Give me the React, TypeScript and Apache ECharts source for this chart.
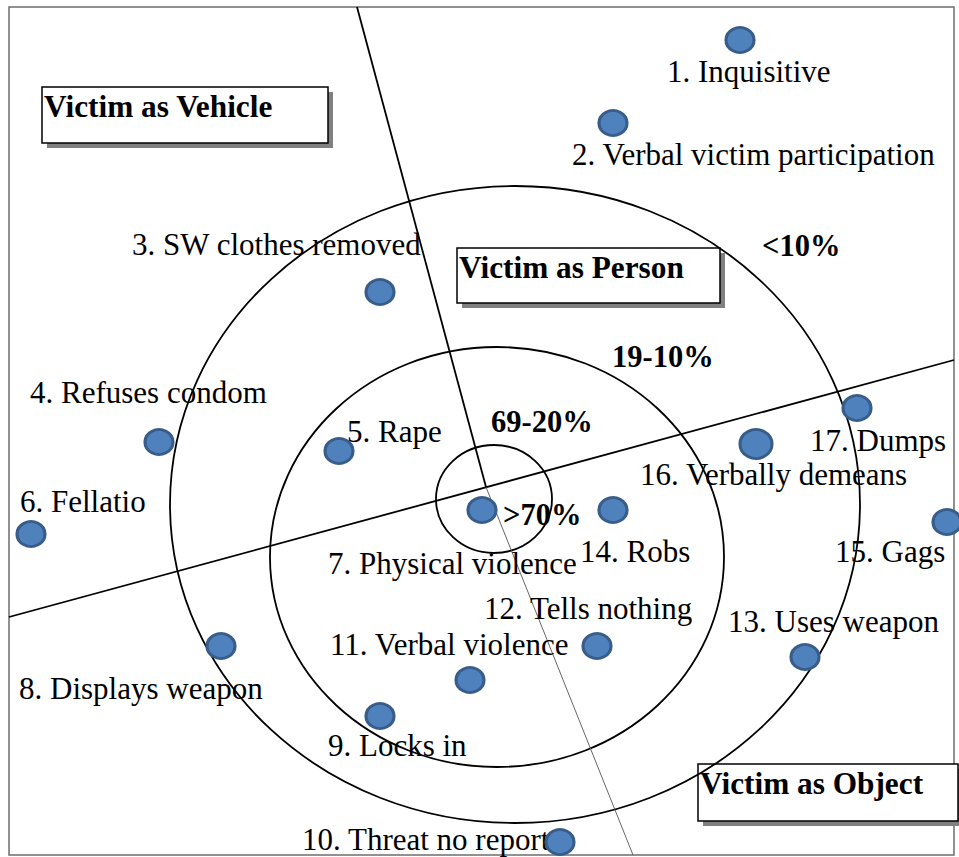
import React, { useEffect, useRef } from "react";
import * as echarts from "echarts";

// Data space: x 0..945 (left→right), y 0..848 (top→bottom) inside the frame
const X_MAX = 945;
const Y_MAX = 848;

const itemNames = [
  "1. Inquisitive",
  "2. Verbal victim participation",
  "3. SW clothes removed",
  "4. Refuses condom",
  "5. Rape",
  "6. Fellatio",
  "7. Physical violence",
  "8. Displays weapon",
  "9. Locks in",
  "10. Threat no report",
  "11. Verbal violence",
  "12. Tells nothing",
  "13. Uses weapon",
  "14. Robs",
  "15. Gags",
  "16. Verbally demeans",
  "17. Dumps",
];

// point locations in the plot space
const itemX = [731, 604, 371, 150, 330, 22, 473, 212, 371, 551, 461, 588, 796, 604, 938, 747, 848];
const itemY = [33, 116, 285, 435, 444, 527, 503, 639, 709, 835, 673, 639, 650, 503, 515, 437, 401];

// label anchors (left edge, vertical middle) in the plot space
const labelX = [658, 563, 123, 21, 338, 11, 319, 10, 319, 293, 321, 475, 719, 571, 826, 631, 801];
const labelY = [64, 147, 237, 385, 424, 494, 556, 681, 738, 832, 637, 601, 614, 544, 544, 467, 433];

// concentric regions (centre x, centre y, radius x, radius y)
const ringCx = [485, 488, 506];
const ringCy = [492, 550, 497.5];
const ringRx = [58, 227, 345];
const ringRy = [54, 210, 318.5];

const ringLabels = [">70%", "69-20%", "19-10%", "<10%"];
const ringLabelX = [494, 482, 603, 753];
const ringLabelY = [508, 415, 350, 239];

// partition lines
const lineA = [[348, 0], [477, 480]];
const lineB = [[0, 610], [945, 353]];
const lineC = [[477, 480], [624, 848]];

const FONT = "'Liberation Serif', 'Times New Roman', serif";

function box(x: number, y: number, w: number, h: number, text: string) {
  return {
    type: "group",
    z: 1,
    children: [
      { type: "rect", shape: { x: x + 5, y: y + 5, width: w, height: h }, style: { fill: "#808080" } },
      {
        type: "rect",
        shape: { x, y, width: w, height: h },
        style: { fill: "#ffffff", stroke: "#000000", lineWidth: 1.5 },
      },
      {
        type: "text",
        x: x + 2,
        y: y + 19,
        style: {
          text,
          fontFamily: FONT,
          fontSize: 31.3,
          fontWeight: "bold",
          fill: "#000",
          align: "left",
          verticalAlign: "middle",
        },
      },
    ],
  };
}

export default function App() {
  const ref = useRef<HTMLDivElement>(null);
  useEffect(() => {
    if (!ref.current) return;
    const chart = echarts.init(ref.current, null, { renderer: "svg" });
    const points = itemX.map((x, i) => ({
      value: [x, itemY[i]],
      symbolSize: i === 15 ? [32, 29] : [28, 25],
    }));
    const labels = labelX.map((x, i) => [x, labelY[i]]);
    const rings = ringCx.map((cx, i) => [cx, ringCy[i], ringRx[i], ringRy[i]]);
    const ringLabs = ringLabelX.map((x, i) => [x, ringLabelY[i]]);
    const lineStyle = { color: "#000", width: 1.8 };
    chart.setOption({
      animation: false,
      backgroundColor: "#ffffff",
      grid: {
        left: 9,
        top: 7,
        width: 945,
        height: 848,
        show: true,
        borderColor: "#6e6e6e",
        borderWidth: 1.5,
        backgroundColor: "transparent",
      },
      xAxis: { type: "value", min: 0, max: X_MAX, show: false },
      yAxis: { type: "value", min: 0, max: Y_MAX, inverse: true, show: false },
      graphic: [
        box(42, 87, 286, 56, "Victim as Vehicle"),
        box(457, 248, 263, 55, "Victim as Person"),
        box(698, 764, 260, 57, "Victim as Object"),
      ],
      series: [
        {
          type: "custom",
          z: 3,
          clip: false,
          encode: { x: 0, y: 1 },
          data: rings,
          renderItem: (params: any, api: any) => {
            const c = api.coord([api.value(0), api.value(1)]);
            const s = api.size([api.value(2), api.value(3)]);
            return {
              type: "ellipse",
              shape: { cx: c[0], cy: c[1], rx: Math.abs(s[0]), ry: Math.abs(s[1]) },
              style: { fill: "none", stroke: "#000", lineWidth: 1.8 },
            };
          },
        },
        { type: "line", z: 3, data: lineA, symbol: "none", lineStyle, silent: true },
        { type: "line", z: 3, data: lineB, symbol: "none", lineStyle, silent: true },
        {
          type: "line",
          z: 3,
          data: lineC,
          symbol: "none",
          lineStyle: { color: "#555", width: 0.9 },
          silent: true,
        },
        {
          type: "custom",
          z: 4,
          clip: false,
          encode: { x: 0, y: 1 },
          data: labels,
          renderItem: (params: any, api: any) => {
            const c = api.coord([api.value(0), api.value(1)]);
            return {
              type: "text",
              x: c[0],
              y: c[1],
              style: {
                text: itemNames[params.dataIndex],
                fontFamily: FONT,
                fontSize: 31,
                fill: "#000",
                align: "left",
                verticalAlign: "middle",
              },
            };
          },
        },
        {
          type: "custom",
          z: 4,
          clip: false,
          encode: { x: 0, y: 1 },
          data: ringLabs,
          renderItem: (params: any, api: any) => {
            const c = api.coord([api.value(0), api.value(1)]);
            return {
              type: "text",
              x: c[0],
              y: c[1],
              style: {
                text: ringLabels[params.dataIndex],
                fontFamily: FONT,
                fontSize: 30.5,
                fontWeight: "bold",
                fill: "#000",
                align: "left",
                verticalAlign: "middle",
              },
            };
          },
        },
        {
          type: "scatter",
          z: 5,
          clip: false,
          symbol: "circle",
          data: points,
          itemStyle: { color: "#4F81BD", borderColor: "#385D8A", borderWidth: 3, opacity: 1 },
        },
      ],
    });
    return () => chart.dispose();
  }, []);
  return (
    <div
      ref={ref}
      style={{ position: "fixed", left: 0, top: 0, width: 959, height: 857, background: "#fff" }}
    />
  );
}
